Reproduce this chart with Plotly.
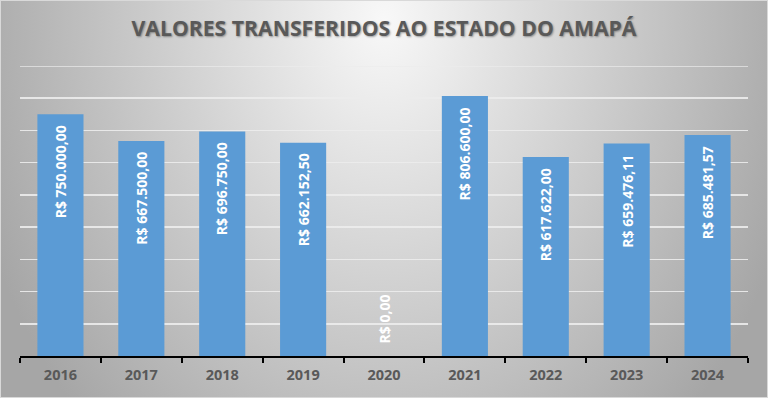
import base64
import plotly.graph_objects as go

anos = ["2016", "2017", "2018", "2019", "2020", "2021", "2022", "2023", "2024"]
valores = [750000.00, 667500.00, 696750.00, 662152.50, 0.00, 806600.00, 617622.00, 659476.11, 685481.57]
rotulos = ["R$ 750.000,00", "R$ 667.500,00", "R$ 696.750,00", "R$ 662.152,50", "R$ 0,00",
           "R$ 806.600,00", "R$ 617.622,00", "R$ 659.476,11", "R$ 685.481,57"]
titulo = "VALORES TRANSFERIDOS AO ESTADO DO AMAPÁ"
y_max = 900000
y_passo = 100000

W, H = 768, 398
ml, mr, mt, mb = 20, 20, 66, 42
pw, ph = W - ml - mr, H - mt - mb

svg = f'''<svg xmlns="http://www.w3.org/2000/svg" width="{W}" height="{H}" viewBox="0 0 {W} {H}" preserveAspectRatio="none">
<defs><radialGradient id="g" gradientUnits="userSpaceOnUse" cx="384" cy="20" r="430" gradientTransform="translate(384 20) scale(1 1.3) translate(-384 -20)">
<stop offset="0" stop-color="#f8f8f8"/><stop offset="1" stop-color="#a6a6a6"/></radialGradient></defs>
<rect x="0" y="0" width="{W}" height="{H}" fill="url(#g)"/>
<rect x="0.5" y="0.5" width="{W-1}" height="{H-1}" fill="none" stroke="#d9d9d9" stroke-width="1"/>
</svg>'''
src = "data:image/svg+xml;base64," + base64.b64encode(svg.encode()).decode()

fonte_rotulo = dict(family="Open Sans", size=14, color="white", weight="bold")
cor_grade = "rgba(236,236,236,0.9)"

fig = go.Figure()
fig.add_trace(go.Bar(
    x=anos, y=valores,
    marker=dict(color="#5B9BD5", line=dict(width=0)),
    width=0.57, hoverinfo="skip",
))

for i, (v, r) in enumerate(zip(valores, rotulos)):
    if v > 0:
        fig.add_annotation(x=i, y=v, text=r, showarrow=False, textangle=-90,
                           yanchor="top", yshift=-9, font=fonte_rotulo)
    else:
        fig.add_annotation(x=i, y=v, text=r, showarrow=False, textangle=-90,
                           yanchor="bottom", yshift=10, font=fonte_rotulo)

# top gridline (plotly omits the one at the edge of the range)
fig.add_shape(type="line", xref="paper", yref="y", x0=0, x1=1, y0=y_max, y1=y_max,
              line=dict(color=cor_grade, width=1.5), layer="below")

fig.update_layout(
    width=W, height=H,
    margin=dict(l=ml, r=mr, t=mt, b=mb),
    paper_bgcolor="#c8c8c8", plot_bgcolor="rgba(0,0,0,0)",
    showlegend=False,
    title=dict(text=titulo, x=0.5, xanchor="center", y=1 - 29 / H, yanchor="middle",
               font=dict(family="Open Sans", size=21.2, color="#595959", weight="bold",
                         shadow="1px 1px 2px rgba(0,0,0,0.35)")),
    images=[dict(source=src, xref="paper", yref="paper",
                 x=-ml / pw, y=1 + mt / ph, sizex=W / pw, sizey=H / ph,
                 xanchor="left", yanchor="top", sizing="stretch", layer="below")],
)
fig.update_xaxes(
    type="category", range=[-0.5, len(anos) - 0.5], automargin=False,
    showline=True, linecolor="black", linewidth=2,
    ticks="outside", tickson="boundaries", ticklen=5, tickcolor="black", tickwidth=2,
    tickangle=0, ticklabelstandoff=5,
    tickfont=dict(family="Open Sans", size=14.5, color="#595959", weight="bold"),
    showgrid=False, zeroline=False,
)
fig.update_yaxes(
    range=[0, y_max], dtick=y_passo, showticklabels=False, automargin=False,
    showgrid=True, gridcolor=cor_grade, gridwidth=1.5,
    zeroline=False, showline=False,
)

fig.write_html("out.html", config=dict(displayModeBar=False, staticPlot=True))
with open("out.html", encoding="utf-8") as f:
    html = f.read()
html = html.replace("<body>", '<body style="margin:0;padding:0;overflow:hidden">', 1)
with open("out.html", "w", encoding="utf-8") as f:
    f.write(html)
